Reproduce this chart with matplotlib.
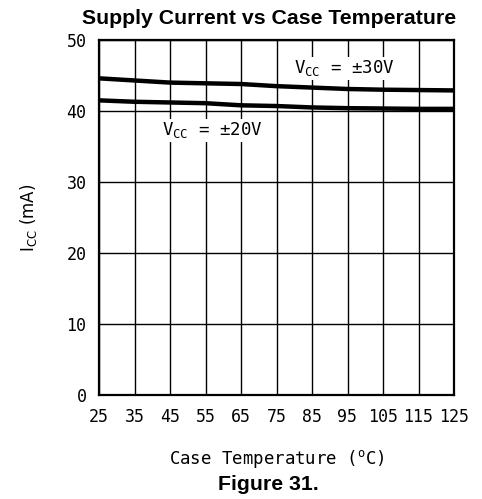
import matplotlib
matplotlib.use("Agg")
import matplotlib.pyplot as plt

temps = [25, 35, 45, 55, 65, 75, 85, 95, 105, 115, 125]
icc_30v = [44.6, 44.3, 44.0, 43.9, 43.8, 43.5, 43.3, 43.1, 43.0, 42.95, 42.9]
icc_20v = [41.5, 41.3, 41.2, 41.1, 40.8, 40.7, 40.5, 40.4, 40.35, 40.3, 40.3]
yticks = [0, 10, 20, 30, 40, 50]

mono = "DejaVu Sans Mono"
plt.rcParams["mathtext.fontset"] = "custom"
plt.rcParams["mathtext.rm"] = mono

fig = plt.figure(figsize=(4.82, 4.99), dpi=100)
ax = fig.add_axes([99/482, 1-395/499, 355/482, 355/499])

ax.plot(temps, icc_30v, color="black", lw=3.2, solid_capstyle="butt")
ax.plot(temps, icc_20v, color="black", lw=3.2, solid_capstyle="butt")

ax.set_xlim(25, 125)
ax.set_ylim(0, 50)
ax.set_xticks(temps)
ax.set_yticks(yticks)
ax.grid(True, color="black", lw=1.0)
ax.tick_params(length=0, labelsize=12, pad=9)
for lab in ax.get_xticklabels() + ax.get_yticklabels():
    lab.set_family(mono)
for s in ax.spines.values():
    s.set_linewidth(1.6)

ax.set_xlabel("Case Temperature ($\\mathregular{^o}$C)", fontsize=12.5, family=mono, labelpad=16)
ax.set_ylabel("I$\\mathregular{_{CC}}$ (mA)", fontsize=12, family=["DejaVu Sans"], labelpad=20)

ax.text(94, 46.0, "V$\\mathregular{_{CC}}$ = ±30V", fontsize=12.5, family=mono, ha="center", va="center",
        bbox=dict(facecolor="white", edgecolor="none", pad=1))
ax.text(57, 37.3, "V$\\mathregular{_{CC}}$ = ±20V", fontsize=12.5, family=mono, ha="center", va="center",
        bbox=dict(facecolor="white", edgecolor="none", pad=1))

fig.text(269/482, 1-19/499, "Supply Current vs Case Temperature", fontsize=15.3,
         fontweight="bold", family="Liberation Sans", ha="center", va="center")
fig.text(268/482, 1-484/499, "Figure 31.", fontsize=15.3,
         fontweight="bold", family="Liberation Sans", ha="center", va="center")

fig.savefig("out.png", dpi=100)
